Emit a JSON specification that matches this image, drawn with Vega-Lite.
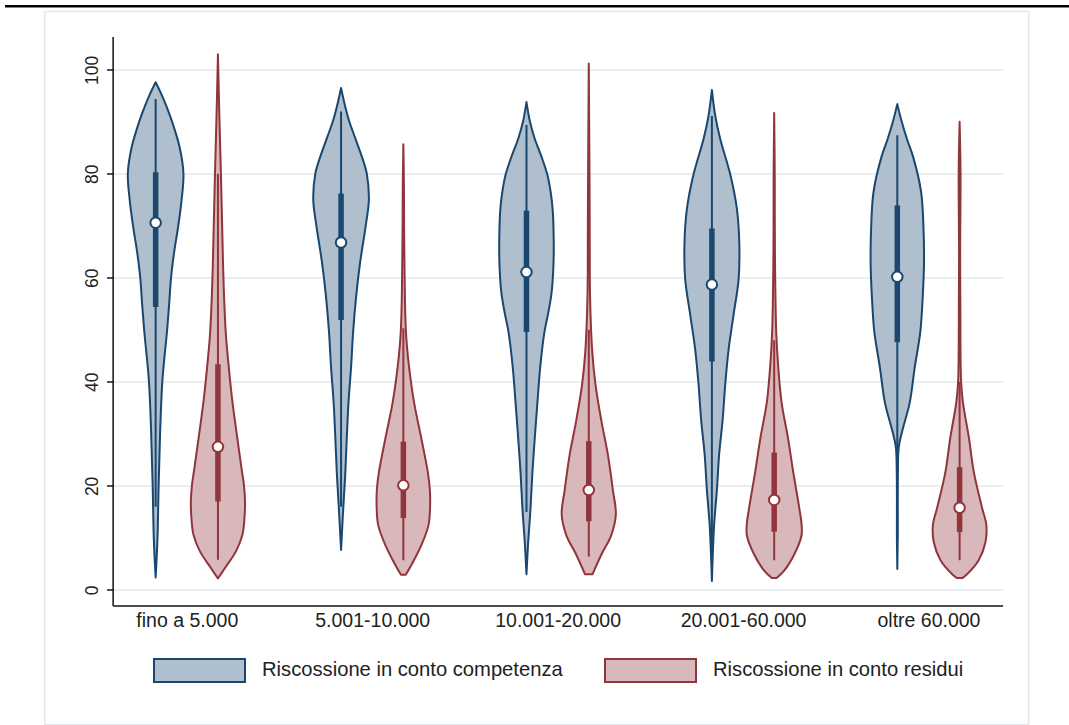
{
  "$schema": "https://vega.github.io/schema/vega-lite/v6.json",
  "background": "white",
  "padding": {"left": 5, "top": 5, "right": 0, "bottom": 0},
  "center": true,
  "spacing": 2.5,
  "datasets": {
    "violini": [
      {"g":0,"s":"competenza","y":2.4,"w":0},{"g":0,"s":"competenza","y":10,"w":1.0},{"g":0,"s":"competenza","y":20,"w":1.6},{"g":0,"s":"competenza","y":30,"w":2.4},{"g":0,"s":"competenza","y":40,"w":3.6},{"g":0,"s":"competenza","y":50,"w":6.2},{"g":0,"s":"competenza","y":55,"w":7.3},{"g":0,"s":"competenza","y":60,"w":8.3},{"g":0,"s":"competenza","y":65,"w":10.0},{"g":0,"s":"competenza","y":70,"w":12.2},{"g":0,"s":"competenza","y":75,"w":14.0},{"g":0,"s":"competenza","y":80,"w":15.0},{"g":0,"s":"competenza","y":85,"w":13.0},{"g":0,"s":"competenza","y":90,"w":8.9},{"g":0,"s":"competenza","y":93,"w":5.8},{"g":0,"s":"competenza","y":95,"w":3.5},{"g":0,"s":"competenza","y":97.6,"w":0},
      {"g":0,"s":"residui","y":2.2,"w":0},{"g":0,"s":"residui","y":4.2,"w":3.8},{"g":0,"s":"residui","y":7.4,"w":9.7},{"g":0,"s":"residui","y":10.6,"w":13.2},{"g":0,"s":"residui","y":13.8,"w":14.3},{"g":0,"s":"residui","y":17,"w":14.6},{"g":0,"s":"residui","y":20.2,"w":14.0},{"g":0,"s":"residui","y":23.4,"w":12.7},{"g":0,"s":"residui","y":29.8,"w":10.2},{"g":0,"s":"residui","y":36.2,"w":7.8},{"g":0,"s":"residui","y":42.6,"w":5.9},{"g":0,"s":"residui","y":49,"w":4.3},{"g":0,"s":"residui","y":55.5,"w":3.4},{"g":0,"s":"residui","y":62,"w":2.8},{"g":0,"s":"residui","y":71,"w":2.2},{"g":0,"s":"residui","y":80,"w":1.6},{"g":0,"s":"residui","y":88,"w":1.0},{"g":0,"s":"residui","y":95,"w":0.5},{"g":0,"s":"residui","y":103,"w":0},
      {"g":1,"s":"competenza","y":7.7,"w":0},{"g":1,"s":"competenza","y":15.8,"w":1.2},{"g":1,"s":"competenza","y":22.6,"w":2.3},{"g":1,"s":"competenza","y":29.3,"w":3.1},{"g":1,"s":"competenza","y":36,"w":4.0},{"g":1,"s":"competenza","y":42.8,"w":5.4},{"g":1,"s":"competenza","y":49.6,"w":6.5},{"g":1,"s":"competenza","y":56.3,"w":8.1},{"g":1,"s":"competenza","y":63,"w":10.3},{"g":1,"s":"competenza","y":70,"w":13.3},{"g":1,"s":"competenza","y":75,"w":15.0},{"g":1,"s":"competenza","y":80,"w":13.9},{"g":1,"s":"competenza","y":83.3,"w":11.2},{"g":1,"s":"competenza","y":87,"w":7.5},{"g":1,"s":"competenza","y":90,"w":4.5},{"g":1,"s":"competenza","y":93,"w":2.2},{"g":1,"s":"competenza","y":96.5,"w":0},
      {"g":1,"s":"residui","y":2.9,"w":1.3},{"g":1,"s":"residui","y":5.7,"w":5.7},{"g":1,"s":"residui","y":9.1,"w":10.3},{"g":1,"s":"residui","y":12.5,"w":13.6},{"g":1,"s":"residui","y":15.8,"w":14.4},{"g":1,"s":"residui","y":19.2,"w":14.3},{"g":1,"s":"residui","y":22.6,"w":13.2},{"g":1,"s":"residui","y":29.3,"w":9.6},{"g":1,"s":"residui","y":36,"w":5.8},{"g":1,"s":"residui","y":42.8,"w":3.1},{"g":1,"s":"residui","y":47,"w":1.9},{"g":1,"s":"residui","y":50.3,"w":1.3},{"g":1,"s":"residui","y":55,"w":0.9},{"g":1,"s":"residui","y":60,"w":0.7},{"g":1,"s":"residui","y":70,"w":0.4},{"g":1,"s":"residui","y":78,"w":0.3},{"g":1,"s":"residui","y":85.7,"w":0},
      {"g":2,"s":"competenza","y":3,"w":0},{"g":2,"s":"competenza","y":9.1,"w":0.9},{"g":2,"s":"competenza","y":15.8,"w":2.2},{"g":2,"s":"competenza","y":22.6,"w":3.2},{"g":2,"s":"competenza","y":29.3,"w":4.5},{"g":2,"s":"competenza","y":36,"w":5.9},{"g":2,"s":"competenza","y":42.8,"w":7.4},{"g":2,"s":"competenza","y":49.6,"w":9.7},{"g":2,"s":"competenza","y":53,"w":11.6},{"g":2,"s":"competenza","y":57,"w":13.5},{"g":2,"s":"competenza","y":62,"w":14.5},{"g":2,"s":"competenza","y":67,"w":14.7},{"g":2,"s":"competenza","y":73.2,"w":14.1},{"g":2,"s":"competenza","y":76.6,"w":13.0},{"g":2,"s":"competenza","y":79.9,"w":11.2},{"g":2,"s":"competenza","y":83.3,"w":8.1},{"g":2,"s":"competenza","y":86.7,"w":4.5},{"g":2,"s":"competenza","y":90,"w":1.9},{"g":2,"s":"competenza","y":93.8,"w":0},
      {"g":2,"s":"residui","y":3,"w":2.0},{"g":2,"s":"residui","y":7.1,"w":7.2},{"g":2,"s":"residui","y":10.4,"w":12.0},{"g":2,"s":"residui","y":14.5,"w":14.6},{"g":2,"s":"residui","y":19.2,"w":13.0},{"g":2,"s":"residui","y":26,"w":10.3},{"g":2,"s":"residui","y":32.7,"w":6.7},{"g":2,"s":"residui","y":39.5,"w":3.6},{"g":2,"s":"residui","y":46.2,"w":1.8},{"g":2,"s":"residui","y":56.3,"w":0.7},{"g":2,"s":"residui","y":70,"w":0.5},{"g":2,"s":"residui","y":78.6,"w":0.4},{"g":2,"s":"residui","y":90,"w":0.2},{"g":2,"s":"residui","y":101.2,"w":0},
      {"g":3,"s":"competenza","y":1.7,"w":0},{"g":3,"s":"competenza","y":6,"w":0.4},{"g":3,"s":"competenza","y":12.5,"w":1.2},{"g":3,"s":"competenza","y":19.2,"w":2.7},{"g":3,"s":"competenza","y":26,"w":3.9},{"g":3,"s":"competenza","y":32.7,"w":5.8},{"g":3,"s":"competenza","y":39.5,"w":7.2},{"g":3,"s":"competenza","y":46.2,"w":9.0},{"g":3,"s":"competenza","y":52.9,"w":11.7},{"g":3,"s":"competenza","y":59.7,"w":14.4},{"g":3,"s":"competenza","y":66.4,"w":14.8},{"g":3,"s":"competenza","y":73.2,"w":13.5},{"g":3,"s":"competenza","y":79.9,"w":9.9},{"g":3,"s":"competenza","y":86.7,"w":4.5},{"g":3,"s":"competenza","y":91,"w":1.9},{"g":3,"s":"competenza","y":96.1,"w":0},
      {"g":3,"s":"residui","y":2.3,"w":1.3},{"g":3,"s":"residui","y":3.7,"w":5.4},{"g":3,"s":"residui","y":7.1,"w":11.2},{"g":3,"s":"residui","y":10.4,"w":14.7},{"g":3,"s":"residui","y":12.5,"w":14.8},{"g":3,"s":"residui","y":15.8,"w":13.5},{"g":3,"s":"residui","y":22.6,"w":10.3},{"g":3,"s":"residui","y":29.3,"w":7.4},{"g":3,"s":"residui","y":36,"w":4.0},{"g":3,"s":"residui","y":42.8,"w":2.2},{"g":3,"s":"residui","y":49.6,"w":1.1},{"g":3,"s":"residui","y":65,"w":0.4},{"g":3,"s":"residui","y":80,"w":0.3},{"g":3,"s":"residui","y":91.7,"w":0},
      {"g":4,"s":"competenza","y":4,"w":0},{"g":4,"s":"competenza","y":9.1,"w":0.2},{"g":4,"s":"competenza","y":22.6,"w":0.3},{"g":4,"s":"competenza","y":27.5,"w":0.8},{"g":4,"s":"competenza","y":30.6,"w":2.7},{"g":4,"s":"competenza","y":36,"w":6.7},{"g":4,"s":"competenza","y":42.8,"w":9.4},{"g":4,"s":"competenza","y":49.6,"w":12.4},{"g":4,"s":"competenza","y":56.3,"w":13.7},{"g":4,"s":"competenza","y":63,"w":14.4},{"g":4,"s":"competenza","y":69.8,"w":14.1},{"g":4,"s":"competenza","y":76.6,"w":12.8},{"g":4,"s":"competenza","y":83.3,"w":8.5},{"g":4,"s":"competenza","y":86.7,"w":5.2},{"g":4,"s":"competenza","y":90,"w":2.4},{"g":4,"s":"competenza","y":93.4,"w":0},
      {"g":4,"s":"residui","y":2.3,"w":1.6},{"g":4,"s":"residui","y":3,"w":4.0},{"g":4,"s":"residui","y":5.7,"w":10.3},{"g":4,"s":"residui","y":9.1,"w":13.9},{"g":4,"s":"residui","y":12.5,"w":14.4},{"g":4,"s":"residui","y":15.8,"w":12.1},{"g":4,"s":"residui","y":22.6,"w":7.7},{"g":4,"s":"residui","y":29.3,"w":5.0},{"g":4,"s":"residui","y":36,"w":1.8},{"g":4,"s":"residui","y":40.1,"w":0.8},{"g":4,"s":"residui","y":55,"w":0.4},{"g":4,"s":"residui","y":65,"w":0.3},{"g":4,"s":"residui","y":80,"w":0.5},{"g":4,"s":"residui","y":90,"w":0}
    ],
    "sintesi": [
      {"g":0,"s":"competenza","lo":16,"q1":54.4,"med":70.6,"q3":80.3,"hi":94.4},
      {"g":0,"s":"residui","lo":5.8,"q1":17,"med":27.5,"q3":43.4,"hi":80},
      {"g":1,"s":"competenza","lo":16,"q1":51.9,"med":66.8,"q3":76.2,"hi":92},
      {"g":1,"s":"residui","lo":5.7,"q1":13.8,"med":20.1,"q3":28.5,"hi":50.3},
      {"g":2,"s":"competenza","lo":15,"q1":49.6,"med":61.1,"q3":72.9,"hi":89.4},
      {"g":2,"s":"residui","lo":6.4,"q1":13.2,"med":19.2,"q3":28.6,"hi":50},
      {"g":3,"s":"competenza","lo":6.5,"q1":43.9,"med":58.7,"q3":69.5,"hi":91.1},
      {"g":3,"s":"residui","lo":5.7,"q1":11.2,"med":17.3,"q3":26.4,"hi":48},
      {"g":4,"s":"competenza","lo":9.8,"q1":47.6,"med":60.2,"q3":73.9,"hi":87.4},
      {"g":4,"s":"residui","lo":5.7,"q1":11.1,"med":15.8,"q3":23.6,"hi":40}
    ]
  },
  "vconcat": [
    {
      "width": 1064,
      "height": 2.5,
      "view": {"fill": "#000000", "stroke": null},
      "data": {"values": []},
      "mark": "point"
    },
    {
      "width": 984,
      "height": 713,
      "view": {"stroke": "#e3e9ed", "strokeWidth": 1.5, "fill": "white"},
      "layer": [
        {
          "data": {"name": "violini"},
          "transform": [
            {"calculate": "datum.g + (datum.s == 'competenza' ? -0.168 : 0.168)", "as": "c"},
            {"calculate": "datum.c - datum.w / 100", "as": "x1"},
            {"calculate": "datum.c + datum.w / 100", "as": "x2"}
          ],
          "mark": {"type": "area", "orient": "horizontal", "interpolate": "catmull-rom", "strokeWidth": 2, "strokeJoin": "round", "fillOpacity": 1},
          "encoding": {
            "y": {
              "field": "y", "type": "quantitative",
              "scale": {"domain": [-3, 106.4], "range": [594, 25], "nice": false, "zero": false},
              "axis": {
                "orient": "left", "offset": -68, "values": [0, 20, 40, 60, 80, 100],
                "grid": true, "gridColor": "#e2eaef", "gridWidth": 1.5,
                "tickSize": 6, "tickColor": "#111111", "tickWidth": 1.5,
                "domainColor": "#111111", "domainWidth": 1.5,
                "labelAngle": 270, "labelFontSize": 17.5, "labelPadding": 5,
                "labelColor": "#222222", "labelFont": "Liberation Sans", "title": null
              }
            },
            "x": {
              "field": "x1", "type": "quantitative",
              "scale": {"domain": [-0.4, 4.4], "range": [68, 958], "nice": false, "zero": false},
              "axis": {
                "orient": "bottom", "offset": -119, "values": [0, 1, 2, 3, 4],
                "labelExpr": "['fino a 5.000', '5.001-10.000', '10.001-20.000', '20.001-60.000', 'oltre 60.000'][datum.value]",
                "ticks": false, "grid": false, "domainColor": "#111111", "domainWidth": 1.5,
                "labelFontSize": 19.5, "labelPadding": 6, "labelColor": "#222222", "labelFont": "Liberation Sans",
                "labelFlush": false, "labelOverlap": false, "title": null
              }
            },
            "x2": {"field": "x2"},
            "detail": {"field": "g"},
            "fill": {
              "field": "s", "type": "nominal",
              "scale": {"domain": ["competenza", "residui"], "range": ["#afbfcd", "#d8b8ba"]},
              "legend": {
                "orient": "none", "legendX": 148, "legendY": 618.5, "direction": "horizontal", "title": null,
                "symbolType": "M-1,-0.253H1V0.253H-1Z", "symbolSize": 8281, "symbolStrokeWidth": 2,
                "labelFontSize": 20.2, "labelOffset": 16, "columnPadding": 38, "labelLimit": 500,
                "labelColor": "#222222", "labelFont": "Liberation Sans", "padding": 0,
                "labelExpr": "'Riscossione in conto ' + datum.label"
              }
            },
            "stroke": {
              "field": "s", "type": "nominal",
              "scale": {"domain": ["competenza", "residui"], "range": ["#1a476f", "#90353b"]},
              "legend": {
                "orient": "none", "legendX": 148, "legendY": 618.5, "direction": "horizontal", "title": null,
                "symbolType": "M-1,-0.253H1V0.253H-1Z", "symbolSize": 8281, "symbolStrokeWidth": 2,
                "labelFontSize": 20.2, "labelOffset": 16, "columnPadding": 38, "labelLimit": 500,
                "labelColor": "#222222", "labelFont": "Liberation Sans", "padding": 0,
                "labelExpr": "'Riscossione in conto ' + datum.label"
              }
            }
          }
        },
        {
          "data": {"name": "sintesi"},
          "transform": [{"calculate": "datum.g + (datum.s == 'competenza' ? -0.168 : 0.168)", "as": "c"}],
          "mark": {"type": "rule", "strokeWidth": 2},
          "encoding": {
            "x": {"field": "c", "type": "quantitative"},
            "y": {"field": "lo", "type": "quantitative"},
            "y2": {"field": "hi"},
            "stroke": {"field": "s", "type": "nominal", "legend": null}
          }
        },
        {
          "data": {"name": "sintesi"},
          "transform": [{"calculate": "datum.g + (datum.s == 'competenza' ? -0.168 : 0.168)", "as": "c"}],
          "mark": {"type": "rule", "strokeWidth": 5.5, "strokeCap": "butt"},
          "encoding": {
            "x": {"field": "c", "type": "quantitative"},
            "y": {"field": "q1", "type": "quantitative"},
            "y2": {"field": "q3"},
            "stroke": {"field": "s", "type": "nominal", "legend": null}
          }
        },
        {
          "data": {"name": "sintesi"},
          "transform": [{"calculate": "datum.g + (datum.s == 'competenza' ? -0.168 : 0.168)", "as": "c"}],
          "mark": {"type": "point", "shape": "circle", "filled": false, "fill": "white", "fillOpacity": 1, "strokeWidth": 2, "size": 110, "opacity": 1},
          "encoding": {
            "x": {"field": "c", "type": "quantitative"},
            "y": {"field": "med", "type": "quantitative"},
            "stroke": {"field": "s", "type": "nominal", "legend": null}
          }
        }
      ]
    }
  ],
  "config": {
    "font": "Liberation Sans"
  }
}
